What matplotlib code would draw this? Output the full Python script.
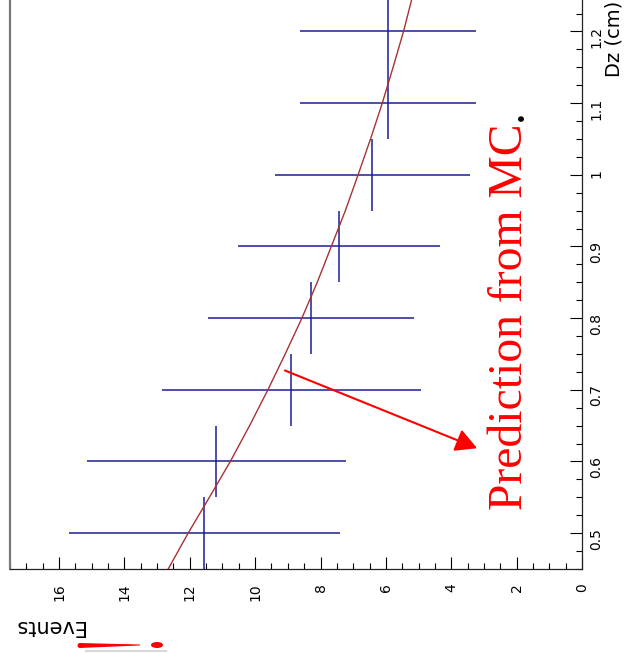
import matplotlib
matplotlib.use("Agg")
import matplotlib.pyplot as plt
from matplotlib.patches import Polygon, Ellipse
from matplotlib.ticker import MultipleLocator, FuncFormatter

dz_centers = [0.5, 0.6, 0.7, 0.8, 0.9, 1.0, 1.1, 1.2]
dz_halfwidth = [0.05, 0.05, 0.05, 0.05, 0.05, 0.05, 0.05, 0.05]
events = [11.56, 11.19, 8.90, 8.29, 7.43, 6.42, 5.93, 5.93]
events_err = [4.15, 3.96, 3.96, 3.16, 3.09, 2.98, 2.69, 2.69]

# MC prediction curve (read every 0.05 in Dz).
fit_dz = [0.45, 0.5, 0.55, 0.6, 0.65, 0.7, 0.75, 0.8, 0.85, 0.9,
          0.95, 1.0, 1.05, 1.1, 1.15, 1.2, 1.25]
fit_events = [12.66, 12.05, 11.40, 10.76, 10.17, 9.61, 9.08, 8.57, 8.10, 7.67,
              7.24, 6.85, 6.47, 6.11, 5.78, 5.46, 5.18]

W, H = 625, 653
BLUE = "#1c1c96"
FIT = "#a83232"


def px(x, y):
    """image pixel (from top-left) -> figure fraction"""
    return x / W, 1 - y / H


fig = plt.figure(figsize=(W / 100, H / 100), dpi=100)
ax = fig.add_axes([10 / W, (H - 569) / H, 572 / W, (569 + 4.4) / H])

ax.errorbar(events, dz_centers, xerr=events_err, yerr=dz_halfwidth,
            fmt="none", ecolor=BLUE, elinewidth=1.1, capsize=0)
ax.plot(fit_events, fit_dz, color=FIT, lw=1.0)

ax.set_xlim(17.5, 0)
ax.set_ylim(0.45, 1.25)

ax.xaxis.set_major_locator(MultipleLocator(2))
ax.xaxis.set_minor_locator(MultipleLocator(0.5))
ax.yaxis.set_major_locator(MultipleLocator(0.1))
ax.yaxis.set_minor_locator(MultipleLocator(0.025))
fmt = FuncFormatter(lambda v, _: f"{v:g}")
ax.xaxis.set_major_formatter(fmt)
ax.yaxis.set_major_formatter(fmt)

ax.tick_params(axis="x", which="both", direction="in", bottom=True, top=False,
               labelrotation=90, labelsize=10, pad=10.5, width=0.8)
ax.tick_params(axis="y", which="both", direction="in", left=False, right=True,
               labelleft=False, labelright=True, labelrotation=90,
               labelsize=10, pad=5, width=0.8)
ax.tick_params(which="major", length=8.3)
ax.tick_params(which="minor", length=4.3)

ax.spines["top"].set_visible(False)
ax.spines["left"].set_color("#7a7a7a")
ax.spines["left"].set_linewidth(1.6)
ax.spines["bottom"].set_color("#222222")
ax.spines["right"].set_color("#222222")
ax.spines["bottom"].set_linewidth(0.9)
ax.spines["right"].set_linewidth(0.9)

# axis titles (rotated like the rest of the page)
fig.text(*px(614, 1), "Dz (cm)", rotation=90, ha="center", va="top", fontsize=14)
fig.text(*px(49, 626), "Events", rotation=180, ha="center", va="center", fontsize=15)

# annotation
ax.annotate("", xy=(3.21, 0.6185), xytext=(9.09, 0.727),
            arrowprops=dict(arrowstyle="-|>,head_length=0.65,head_width=0.35",
                            mutation_scale=20, color="red", lw=1.5,
                            shrinkA=0, shrinkB=0))
fig.text(*px(522, 510), "Prediction from MC", rotation=90, rotation_mode="anchor",
         ha="left", va="baseline", color="red", fontsize=34.3,
         family="Liberation Serif")
fig.text(*px(522, 121), ".", rotation=90, rotation_mode="anchor",
         ha="left", va="baseline", color="black", fontsize=34.3,
         family="Liberation Serif")

# red brush-stroke decoration at bottom left
over = fig.add_axes([0, 0, 1, 1], facecolor="none")
over.set_xlim(0, W)
over.set_ylim(H, 0)
over.axis("off")
over.plot([86, 166], [650.5, 650.5], color="#d8d8d8", lw=1.5)
over.add_patch(Polygon([(79, 643), (140, 644.5), (140, 645.5), (79, 648)],
                       closed=True, color="red", lw=0))
over.add_patch(Ellipse((80, 645.5), 5, 5, color="red", lw=0))
over.add_patch(Ellipse((157, 645), 12, 6, color="red", lw=0))

fig.savefig("out.png", dpi=100)
